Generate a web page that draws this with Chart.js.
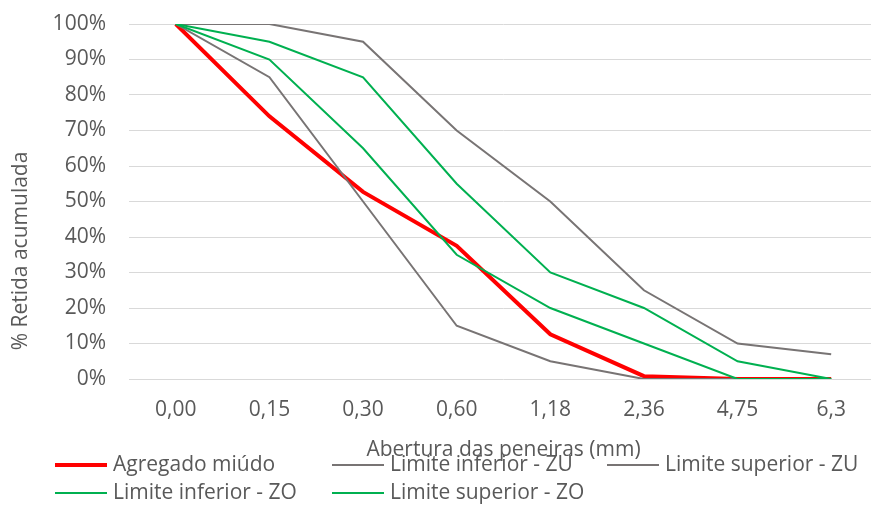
<html lang="pt">
<head>
<meta charset="UTF-8">
<title>Curva granulométrica</title>
<style>
  body { margin: 0; overflow: hidden; background: #fff; }
  #wrap { position: relative; width: 880px; height: 505px; }
</style>
</head>
<body>
<div id="wrap"><canvas id="grafico"></canvas></div>

<script src="https://cdn.jsdelivr.net/npm/chart.js@4.4.0/dist/chart.umd.min.js"></script>
<script>
  // aberturas das peneiras (mm)
  const peneiras = ['0,00', '0,15', '0,30', '0,60', '1,18', '2,36', '4,75', '6,3'];
  const yTicks = [0, 10, 20, 30, 40, 50, 60, 70, 80, 90, 100];

  // % retida acumulada
  const agregado = [100, 74, 52.7, 37.5, 12.6, 0.8, 0, 0];
  const infZU = [100, 85, 50, 15, 5, 0, 0, 0];
  const supZU = [100, 100, 95, 70, 50, 25, 10, 7];
  const infZO = [100, 90, 65, 35, 20, 10, 0, 0];
  const supZO = [100, 95, 85, 55, 30, 20, 5, 0];

  const cinza = '#787474';
  const verde = '#00b050';
  const texto = '#595959';
  const fonte = '"Open Sans", sans-serif';
  const tam = 21;

  // legenda em grade fixa, como no excel
  const legendaGrade = {
    id: 'legendaGrade',
    afterDraw(chart) {
      const ctx = chart.ctx;
      const cols = [55, 332, 607];
      const rows = [465, 493];
      ctx.save();
      ctx.font = tam + 'px ' + fonte;
      ctx.textBaseline = 'middle';
      ctx.fillStyle = texto;
      chart.data.datasets.forEach((ds, i) => {
        const x = cols[i < 3 ? i : i - 3];
        const y = rows[i < 3 ? 0 : 1];
        ctx.strokeStyle = ds.borderColor;
        ctx.lineWidth = ds.borderWidth;
        ctx.beginPath();
        ctx.moveTo(x, y);
        ctx.lineTo(x + 52, y);
        ctx.stroke();
        ctx.fillText(ds.label, x + 58, y);
      });
      // titulo do eixo y
      ctx.translate(21, 251);
      ctx.rotate(-Math.PI / 2);
      ctx.textAlign = 'center';
      ctx.fillText('% Retida acumulada', 0, 0);
      ctx.restore();
    }
  };

  const ds = (label, data, color, width, order) => ({
    label, data,
    borderColor: color,
    backgroundColor: color,
    borderWidth: width,
    pointRadius: 0,
    fill: false,
    order
  });

  new Chart(document.getElementById('grafico'), {
    type: 'line',
    data: {
      labels: peneiras,
      datasets: [
        ds('Agregado miúdo', agregado, '#ff0000', 4, 5),
        ds('Limite inferior - ZU', infZU, cinza, 2, 4),
        ds('Limite superior - ZU', supZU, cinza, 2, 3),
        ds('Limite inferior - ZO', infZO, verde, 2, 2),
        ds('Limite superior - ZO', supZO, verde, 2, 1)
      ]
    },
    options: {
      responsive: true,
      maintainAspectRatio: false,
      animation: false,
      layout: { padding: { top: 24, right: 2, bottom: 42, left: 0 } },
      plugins: { legend: { display: false }, tooltip: { enabled: false } },
      scales: {
        x: {
          offset: true,
          grid: { display: false, offset: true },
          border: { display: false },
          ticks: { color: texto, font: { family: fonte, size: tam }, padding: 10, maxRotation: 0 },
          title: { display: true, text: 'Abertura das peneiras (mm)', color: texto, font: { family: fonte, size: tam }, padding: 0 },
          afterFit: s => { s.height = 84; }
        },
        y: {
          min: 0, max: 100,
          afterBuildTicks: s => { s.ticks = yTicks.map(v => ({ value: v })); },
          grid: { color: '#d9d9d9', lineWidth: 1, drawTicks: false },
          border: { display: false },
          ticks: { color: texto, font: { family: fonte, size: tam }, padding: 23, callback: v => v + '%' },
          afterFit: s => { s.width = 129; s.paddingTop = 0; s.paddingBottom = 0; }
        }
      }
    },
    plugins: [legendaGrade]
  });
</script>
</body>
</html>
